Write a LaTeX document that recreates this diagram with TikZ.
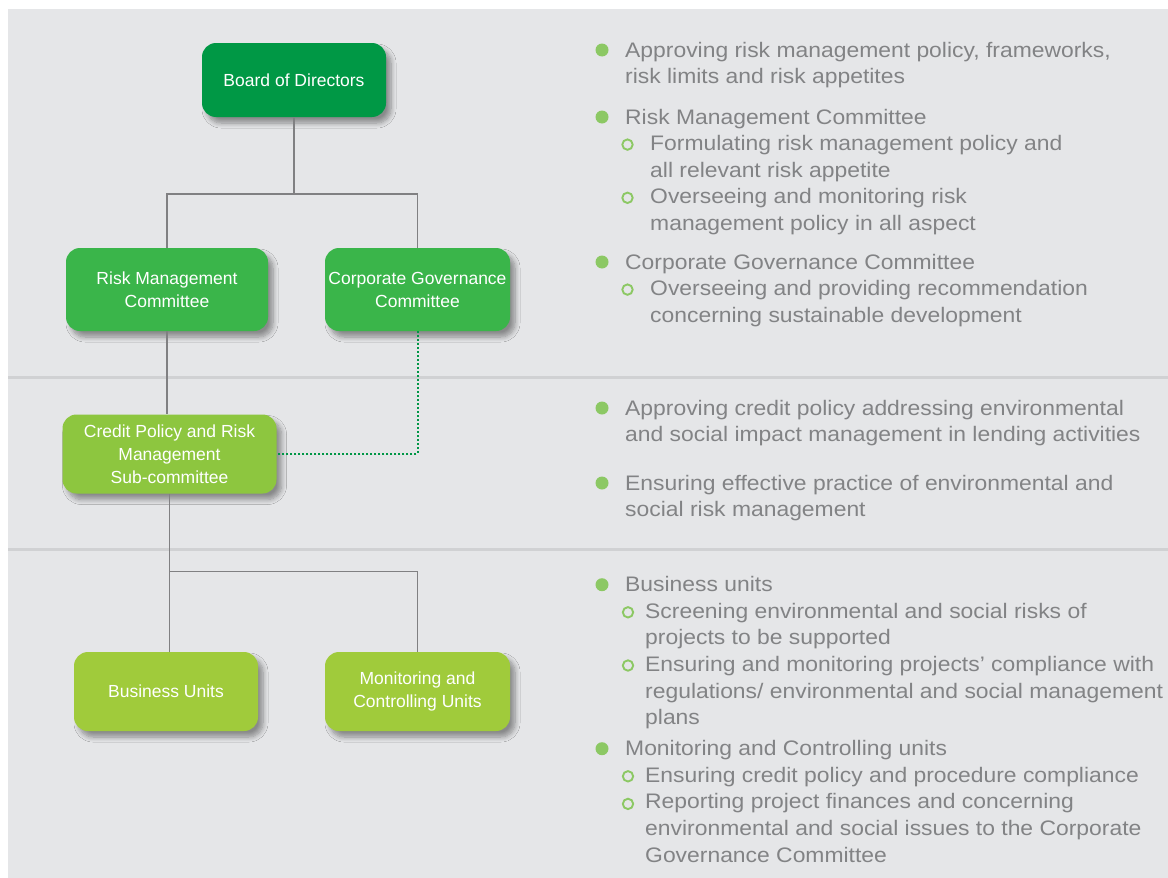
\documentclass[tikz,border=0pt]{standalone}
\usepackage{fontspec}
\setmainfont{Liberation Sans}
\newfontfamily\listfont{Liberation Sans}[FakeStretch=1.09]
\usetikzlibrary{positioning, shadows.blur}
\definecolor{bggray}{RGB}{229,230,232}
\definecolor{rulegray}{RGB}{208,209,211}
\definecolor{linegray}{RGB}{128,128,130}
\definecolor{txtgray}{RGB}{130,131,133}
\definecolor{boardgreen}{RGB}{0,152,69}
\definecolor{midgreen}{RGB}{58,181,74}
\definecolor{limegreen}{RGB}{141,198,63}
\definecolor{unitgreen}{RGB}{160,203,59}
\definecolor{dotgreen}{RGB}{0,150,70}
\definecolor{bulgreen}{RGB}{140,200,100}

\begin{document}
\begin{tikzpicture}[x=1pt, y=-1pt,
unit/.style={rounded corners=14pt, text=white, align=center, inner sep=0pt,
  font=\fontsize{17.5}{23}\selectfont,
  blur shadow={shadow xshift=5pt, shadow yshift=-6pt, shadow blur radius=5pt, shadow blur steps=8, shadow opacity=40}},
link/.style={draw=linegray, line width=1.3pt},
cglink/.style={draw=dotgreen, line width=2pt, dash pattern=on 2pt off 2pt}]
\tikzstyle{txt}=[anchor=base west, inner sep=0pt, text=txtgray, font=\listfont\fontsize{21}{26}\selectfont]
\tikzstyle{bul}=[fill=bulgreen]
\tikzstyle{subbul}=[draw=bulgreen, line width=1.9pt]
\def\fy{26.6}
\useasboundingbox (0,0) rectangle (1168,878);

%background
\fill[bggray] (8,9) -- (1168,9) -- (1168,878) -- (20,878) arc[start angle=270, end angle=180, radius=12] -- cycle;
\draw[rulegray, line width=3pt] (8,377) -- (1168,377);
\draw[rulegray, line width=3pt] (8,549) -- (1168,549);

%chart
\node[unit, fill=boardgreen, minimum width=184pt, minimum height=74pt] (board) at (294,80) {Board of Directors};
\node[unit, fill=midgreen, minimum width=202pt, minimum height=83pt] (riskcom) at (167,289.5) {Risk Management\\Committee};
\node[unit, fill=midgreen, minimum width=185pt, minimum height=83pt] (cgcom) at (417.5,289.5) {Corporate Governance\\Committee};
\node[unit, fill=limegreen, minimum width=214pt, minimum height=79pt] (creditsub) at (169.5,454) {Credit Policy and Risk\\Management\\Sub-committee};
\node[unit, fill=unitgreen, minimum width=184pt, minimum height=79pt] (bizunits) at (166,691.5) {Business Units};
\node[unit, fill=unitgreen, minimum width=185pt, minimum height=79pt] (monunits) at (417.5,691.5) {Monitoring and\\Controlling Units};

\coordinate (split) at (294,194);
\path (creditsub.south) ++(0,78) coordinate (split2);
\draw[link] (board.south) -- (split) -| (riskcom.north);
\draw[link] (split) -| (cgcom.north);
\draw[link] (riskcom.south) -- (riskcom.south |- creditsub.north);
\draw[link] (creditsub.south) -- (creditsub.south |- bizunits.north);
\draw[link] (split2) -| (monunits.north);
\draw[cglink] (cgcom.south) |- (creditsub.east);

%board level
\node[txt] (a1) at (625,57) {Approving risk management policy, frameworks,};
\node[txt] (a2) at (625,57+\fy) {risk limits and risk appetites};
\node[txt] (a3) at (625,124) {Risk Management Committee};
\node[txt] (a4) at (650,124+\fy) {Formulating risk management policy and};
\node[txt] (a5) at (650,124+2*\fy) {all relevant risk appetite};
\node[txt] (a6) at (650,124+3*\fy) {Overseeing and monitoring risk};
\node[txt] (a7) at (650,124+4*\fy) {management policy in all aspect};
\node[txt] (a8) at (625,269) {Corporate Governance Committee};
\node[txt] (a9) at (650,269+\fy) {Overseeing and providing recommendation};
\node[txt] (a10) at (650,269+2*\fy) {concerning sustainable development};
\fill[bul] ([shift={(-23,-7)}]a1.base west) circle (6.5);
\fill[bul] ([shift={(-23,-7)}]a3.base west) circle (6.5);
\fill[bul] ([shift={(-23,-7)}]a8.base west) circle (6.5);
\draw[subbul] ([shift={(-22.5,-6)}]a4.base west) circle (5.2);
\draw[subbul] ([shift={(-22.5,-6)}]a6.base west) circle (5.2);
\draw[subbul] ([shift={(-22.5,-6)}]a9.base west) circle (5.2);

%sub-committee level
\node[txt] (b1) at (625,415) {Approving credit policy addressing environmental};
\node[txt] (b2) at (625,415+\fy) {and social impact management in lending activities};
\node[txt] (b3) at (625,490) {Ensuring effective practice of environmental and};
\node[txt] (b4) at (625,490+\fy) {social risk management};
\fill[bul] ([shift={(-23,-7)}]b1.base west) circle (6.5);
\fill[bul] ([shift={(-23,-7)}]b3.base west) circle (6.5);

%unit level
\node[txt] (c1) at (625,591.7) {Business units};
\node[txt] (c2) at (645,591.7+\fy) {Screening environmental and social risks of};
\node[txt] (c3) at (645,591.7+2*\fy) {projects to be supported};
\node[txt] (c4) at (645,591.7+3*\fy) {Ensuring and monitoring projects’ compliance with};
\node[txt] (c5) at (645,591.7+4*\fy) {regulations/ environmental and social management};
\node[txt] (c6) at (645,591.7+5*\fy) {plans};
\node[txt] (c7) at (625,755.7) {Monitoring and Controlling units};
\node[txt] (c8) at (645,755.7+\fy) {Ensuring credit policy and procedure compliance};
\node[txt] (c9) at (645,755.7+2*\fy) {Reporting project finances and concerning};
\node[txt] (c10) at (645,755.7+3*\fy) {environmental and social issues to the Corporate};
\node[txt] (c11) at (645,755.7+4*\fy) {Governance Committee};
\fill[bul] ([shift={(-23,-7)}]c1.base west) circle (6.5);
\fill[bul] ([shift={(-23,-7)}]c7.base west) circle (6.5);
\draw[subbul] ([shift={(-17,-6)}]c2.base west) circle (5.2);
\draw[subbul] ([shift={(-17,-6)}]c4.base west) circle (5.2);
\draw[subbul] ([shift={(-17,-6)}]c8.base west) circle (5.2);
\draw[subbul] ([shift={(-17,-5)}]c9.base west) circle (5.2);

\end{tikzpicture}
\end{document}
